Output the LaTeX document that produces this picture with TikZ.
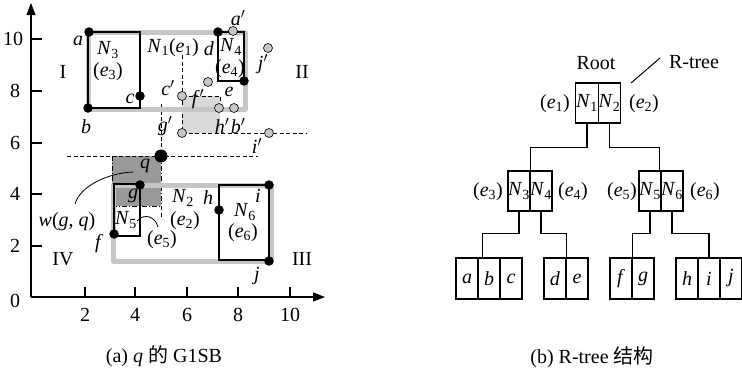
\documentclass[tikz,border=0pt]{standalone}
\usepackage{fontspec}
\setmainfont{Liberation Serif}
\newfontfamily\cjk{Noto Sans CJK SC}
\usetikzlibrary{arrows.meta}
\newcommand\lb[2]{\textit{#1}\textsubscript{#2}}
\newcommand\pr[1]{\textit{#1}$'$}
\tikzset{
  txt/.style={font=\fontsize{20}{24}\selectfont, inner sep=0pt},
  grect/.style={draw=gray!45, line width=5pt, line join=round},
  brect/.style={draw=black, line width=1.8pt},
  bdot/.style={circle, fill=black, minimum size=9.5pt, inner sep=0pt},
  gdot/.style={circle, fill=gray!45, draw=black, line width=0.6pt, minimum size=9pt, inner sep=0pt},
  dsh/.style={line width=0.9pt, dash pattern=on 4pt off 2.5pt},
  dshdot/.style={line width=0.9pt, dash pattern=on 5pt off 2pt on 1pt off 2pt},
  axis/.style={line width=1.3pt},
  cell/.style={draw, line width=1.4pt, minimum width=22pt, minimum height=40pt, inner sep=0pt, font=\fontsize{20}{24}\selectfont},
  conn/.style={line width=1.4pt},
}
\begin{document}
\begin{tikzpicture}[x=1pt,y=-1pt]
\useasboundingbox (0,0) rectangle (742,372);
% ---------- (a) plot ----------
% shaded regions
\fill[gray!30] (182,96) rectangle (220,133);
\fill[black!40] (112,156) rectangle (161,206);
% dashed guide lines
\draw[dshdot] (112,156) -- (112,206) -- (161,206);
\draw[dsh] (161,104) -- (161,156);
\draw[dshdot] (161,156) -- (161,206);
\draw[dsh] (161,206) -- (161,217);
\draw[dsh] (67,156) -- (258,156);
\draw[dsh] (182,55) -- (182,133);
\draw[dsh] (182,96) -- (220,96) -- (220,108);
\draw[dsh] (182,133) -- (307,133);
% gray MBRs
\draw[grect] (88,32) rectangle (245,109);
\draw[grect] (113,185) rectangle (271,261);
% black MBRs
\draw[brect] (88,32) rectangle (140,108);
\draw[brect] (218,32) rectangle (244,81);
\draw[brect] (114,184) rectangle (140,236);
\draw[brect] (219,185) rectangle (269,260);
% axes
\draw[axis,-{Triangle[length=12pt,width=9pt]}] (31,297) -- (31,3);
\draw[axis,-{Triangle[length=12pt,width=9pt]}] (31,297) -- (325,297);
\foreach \yy in {39,91,143,194,246} \draw[axis] (31,\yy) -- (42,\yy);
\foreach \xx in {85,135,187,238,290} \draw[axis] (\xx,297) -- (\xx,287);
\node[txt] (y10) at (13,39) {10};
\node[txt] (y8) at (15,91) {8};
\node[txt] (y6) at (15,143) {6};
\node[txt] (y4) at (15,194) {4};
\node[txt] (y2) at (15,246) {2};
\node[txt] (y0) at (15,301) {0};
\node[txt] (x2) at (85,315) {2};
\node[txt] (x4) at (135,315) {4};
\node[txt] (x6) at (187,315) {6};
\node[txt] (x8) at (238,315) {8};
\node[txt] (x10) at (290,315) {10};
% leader curves
\draw[line width=0.8pt] (75,204) .. controls (80,186) and (108,173) .. (133,172);
\draw[line width=0.8pt] (137,221) .. controls (144,213) and (155,216) .. (158,227);
% points
\node[bdot] (pa) at (89,32) {};
\node[bdot] (pb) at (88,108) {};
\node[bdot] (pc) at (140,96) {};
\node[bdot] (pd) at (218,32) {};
\node[bdot] (pe) at (244,81) {};
\node[bdot] (pg) at (140,185) {};
\node[bdot] (pf) at (114,234) {};
\node[bdot] (ph) at (219,210) {};
\node[bdot] (pi) at (269,185) {};
\node[bdot] (pj) at (269,261) {};
\node[gdot] (qa) at (233,31) {};
\node[gdot] (qj) at (268,48) {};
\node[gdot] (qf) at (208,82) {};
\node[gdot] (qc) at (182,96) {};
\node[gdot] (qh) at (219,108) {};
\node[gdot] (qb) at (234,108) {};
\node[gdot] (qg) at (182,133) {};
\node[gdot] (qi) at (269,133) {};
\node[circle, fill=black, minimum size=13pt, inner sep=0pt] (pq) at (161,156) {};
% labels
\node[txt] (la) at (78,41) {\textit{a}};
\node[txt] (lb) at (86,127) {\textit{b}};
\node[txt] (lc) at (130,99) {\textit{c}};
\node[txt] (ld) at (209,49) {\textit{d}};
\node[txt] (le) at (229,92) {\textit{e}};
\node[txt] (lf) at (99,244) {\textit{f}};
\node[txt] (lg) at (133,196) {\textit{g}};
\node[txt] (lh) at (208,198) {\textit{h}};
\node[txt] (li) at (258,196) {\textit{i}};
\node[txt] (lj) at (257,276) {\textit{j}};
\node[txt] (lap) at (238,18) {\pr{a}};
\node[txt] (ljp) at (263,64) {\pr{j}};
\node[txt] (lcp) at (168,88) {\pr{c}};
\node[txt] (lfp) at (198,99) {\pr{f}};
\node[txt] (lgp) at (165,126) {\pr{g}};
\node[txt] (lhp) at (222,126) {\pr{h}};
\node[txt] (lbp) at (238,126) {\pr{b}};
\node[txt] (lip) at (257,146) {\pr{i}};
\node[txt] (lq) at (145,166) {\textit{q}};
\node[txt] (lN3) at (108,50) {\lb{N}{3}};
\node[txt] (le3) at (108,72) {(\lb{e}{3})};
\node[txt] (lN1) at (173,48) {\lb{N}{1}(\lb{e}{1})};
\node[txt] (lN4) at (231,47) {\lb{N}{4}};
\node[txt] (le4) at (230,69) {(\lb{e}{4})};
\node[txt] (lN2) at (183,198) {\lb{N}{2}};
\node[txt] (le2) at (185,221) {(\lb{e}{2})};
\node[txt] (lN5) at (126,220) {\lb{N}{5}};
\node[txt] (le5) at (162,240) {(\lb{e}{5})};
\node[txt] (lN6) at (245,212) {\lb{N}{6}};
\node[txt] (le6) at (243,233) {(\lb{e}{6})};
\node[txt] (lw) at (67,222) {\textit{w}(\textit{g}, \textit{q})};
\node[txt] (r1) at (63,72) {I};
\node[txt] (r2) at (302,72) {II};
\node[txt] (r3) at (302,259) {III};
\node[txt] (r4) at (63,259) {IV};
\node[txt] (capa) at (164,356) {(a) \textit{q} {\cjk 的} G1SB};
% ---------- (b) R-tree ----------
\node[txt] (root) at (596,63) {Root};
\node[txt] (rtree) at (694,62) {R-tree};
\coordinate (rt1) at (631,83);
\coordinate (rt2) at (660,58);
\draw[line width=1pt] (rt1) -- (rt2);
\node[cell, minimum width=22.5pt] (cN1) at (587,103) {\lb{N}{1}};
\node[cell, minimum width=22.5pt] (cN2) at (609.5,103) {\lb{N}{2}};
\node[txt] (te1) at (555,104) {(\lb{e}{1})};
\node[txt] (te2) at (644,104) {(\lb{e}{2})};
\node[cell] (cN3) at (519,191) {\lb{N}{3}};
\node[cell] (cN4) at (541,191) {\lb{N}{4}};
\node[cell] (cN5) at (650,191) {\lb{N}{5}};
\node[cell] (cN6) at (672,191) {\lb{N}{6}};
\node[txt] (te3) at (488,192) {(\lb{e}{3})};
\node[txt] (te4) at (573,192) {(\lb{e}{4})};
\node[txt] (te5) at (622,192) {(\lb{e}{5})};
\node[txt] (te6) at (705,192) {(\lb{e}{6})};
\node[cell, minimum height=41pt] (ca) at (467,278.5) {\textit{a}};
\node[cell, minimum height=41pt] (cb) at (489,278.5) {\textit{b}};
\node[cell, minimum height=41pt] (cc) at (511,278.5) {\textit{c}};
\node[cell, minimum height=41pt] (cd) at (555,278.5) {\textit{d}};
\node[cell, minimum height=41pt] (ce) at (577,278.5) {\textit{e}};
\node[cell, minimum height=41pt] (cf) at (621,278.5) {\textit{f}};
\node[cell, minimum height=41pt] (cg) at (643,278.5) {\textit{g}};
\node[cell, minimum height=41pt] (ch) at (687,278.5) {\textit{h}};
\node[cell, minimum height=41pt] (ci) at (709,278.5) {\textit{i}};
\node[cell, minimum height=41pt] (cj) at (731,278.5) {\textit{j}};
\draw[conn] (cN1.south) -- ++(0,24) -| (cN3.north east);
\draw[conn] (cN2.south) -- ++(0,24) -| ([xshift=-2pt]cN5.north east);
\draw[conn] (cN3.south) -- ++(0,22) -| ([xshift=4pt]ca.north east);
\draw[conn] (cN4.south) -- ++(0,22) -| (cd.north east);
\draw[conn] (cN5.south) -- ++(0,22) -| (cf.north east);
\draw[conn] (cN6.south) -- ++(0,22) -| (ci.north);
\node[txt] (capb) at (592,357) {(b) R-tree {\cjk 结构}};
\end{tikzpicture}
\end{document}
